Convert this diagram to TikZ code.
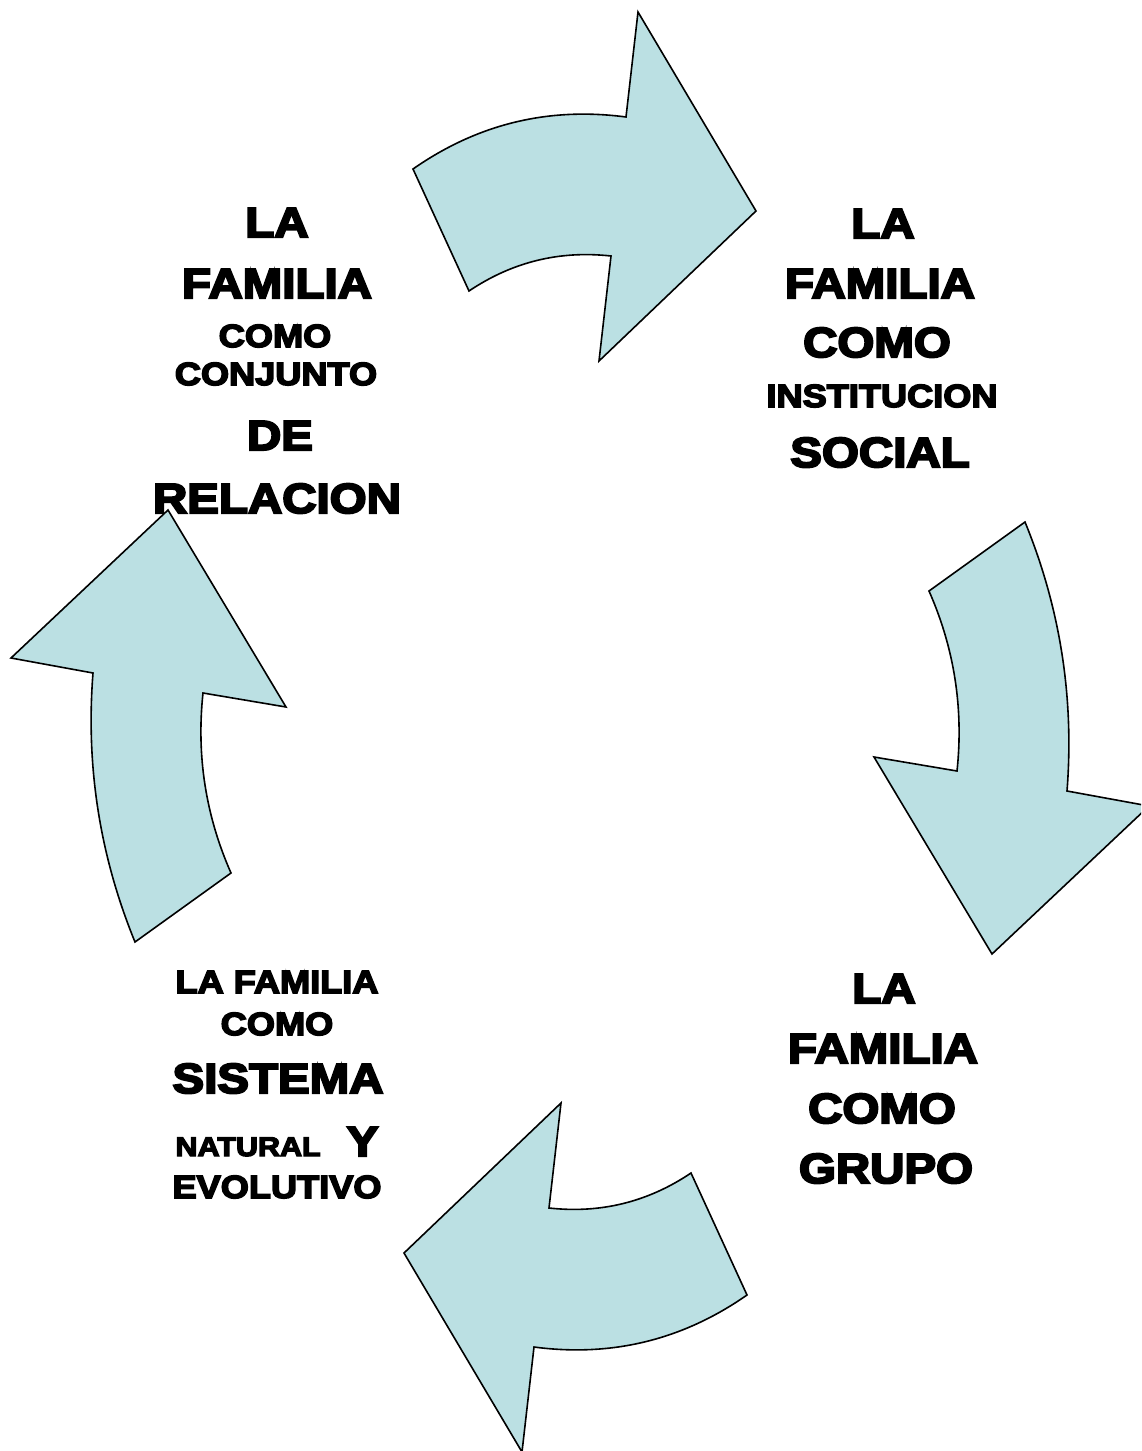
\documentclass[tikz,border=0pt]{standalone}
\usepackage{fontspec}
\newfontfamily\blk{Liberation Sans}[UprightFont={* Bold}, FakeStretch=1.13, FakeBold=5]
\definecolor{arrowfill}{HTML}{BBE0E3}
\begin{document}
\begin{tikzpicture}[x=1pt,y=-1pt,
  bigarrow/.style={fill=arrowfill, draw=black, line width=1.6pt, line join=miter},
  lineL/.style={anchor=base, inner sep=0pt, font=\blk\fontsize{42}{42}\selectfont},
  lineS/.style={anchor=base, inner sep=0pt, font=\blk\fontsize{32}{32}\selectfont}]
\useasboundingbox (0,0) rectangle (1141,1451);
\clip (0,0) rectangle (1141,1451);

% top arrow (pointing right)
\draw[bigarrow] (413,169) -- (469,291)
  .. controls (512.1,262) and (559.4,250.3) .. (611,256)
  -- (599,361) -- (756,211) -- (638,12) -- (626,117)
  .. controls (548.3,106.7) and (477.3,124.1) .. (413,169) -- cycle;

% right arrow (pointing down)
\draw[bigarrow] (1025,522) -- (929,591)
  .. controls (954.3,648.3) and (963.7,708.3) .. (957,771)
  -- (874,757) -- (992,954) -- (1149,806) -- (1067,791)
  .. controls (1074.3,698) and (1060.3,608.3) .. (1025,522) -- cycle;

% bottom arrow (pointing left)
\draw[bigarrow] (747,1295) -- (691,1173)
  .. controls (647.9,1202) and (600.6,1213.7) .. (549,1208)
  -- (561,1103) -- (404,1253) -- (522,1452) -- (534,1347)
  .. controls (611.7,1357.3) and (682.7,1339.9) .. (747,1295) -- cycle;

% left arrow (pointing up)
\draw[bigarrow] (135,942) -- (231,873)
  .. controls (205.7,815.7) and (196.3,755.7) .. (203,693)
  -- (286,707) -- (168,510) -- (11,658) -- (93,673)
  .. controls (85.7,766) and (99.7,855.7) .. (135,942) -- cycle;

% block 1 (top left)
\node[lineL] (a1) at (277,237) {LA};
\node[lineL] (a2) at (277,298) {FAMILIA};
\node[lineS] (a3) at (275,347) {COMO};
\node[lineS] (a4) at (276,385) {CONJUNTO};
\node[lineL] (a5) at (280,450) {DE};
\node[lineL] (a6) at (277,513) {RELACION};

% block 2 (top right)
\node[lineL] (b1) at (883,238) {LA};
\node[lineL] (b2) at (880,298) {FAMILIA};
\node[lineL] (b3) at (877,357) {COMO};
\node[lineS] (b4) at (882,407) {INSTITUCION};
\node[lineL] (b5) at (880,467) {SOCIAL};

% block 3 (bottom right)
\node[lineL] (c1) at (884,1003) {LA};
\node[lineL] (c2) at (883,1063) {FAMILIA};
\node[lineL] (c3) at (882,1123) {COMO};
\node[lineL] (c4) at (886,1183) {GRUPO};

% block 4 (bottom left)
\node[lineS] (d1) at (277,993) {LA FAMILIA};
\node[lineS] (d2) at (277,1035) {COMO};
\node[lineL] (d3) at (278,1093) {SISTEMA};
\node[anchor=base, inner sep=0pt] (d4) at (277,1156) {{\blk\fontsize{27}{27}\selectfont NATURAL}\hspace{26pt}{\blk\fontsize{42}{42}\selectfont Y}};
\node[lineS] (d5) at (277,1198) {EVOLUTIVO};
\end{tikzpicture}
\end{document}
